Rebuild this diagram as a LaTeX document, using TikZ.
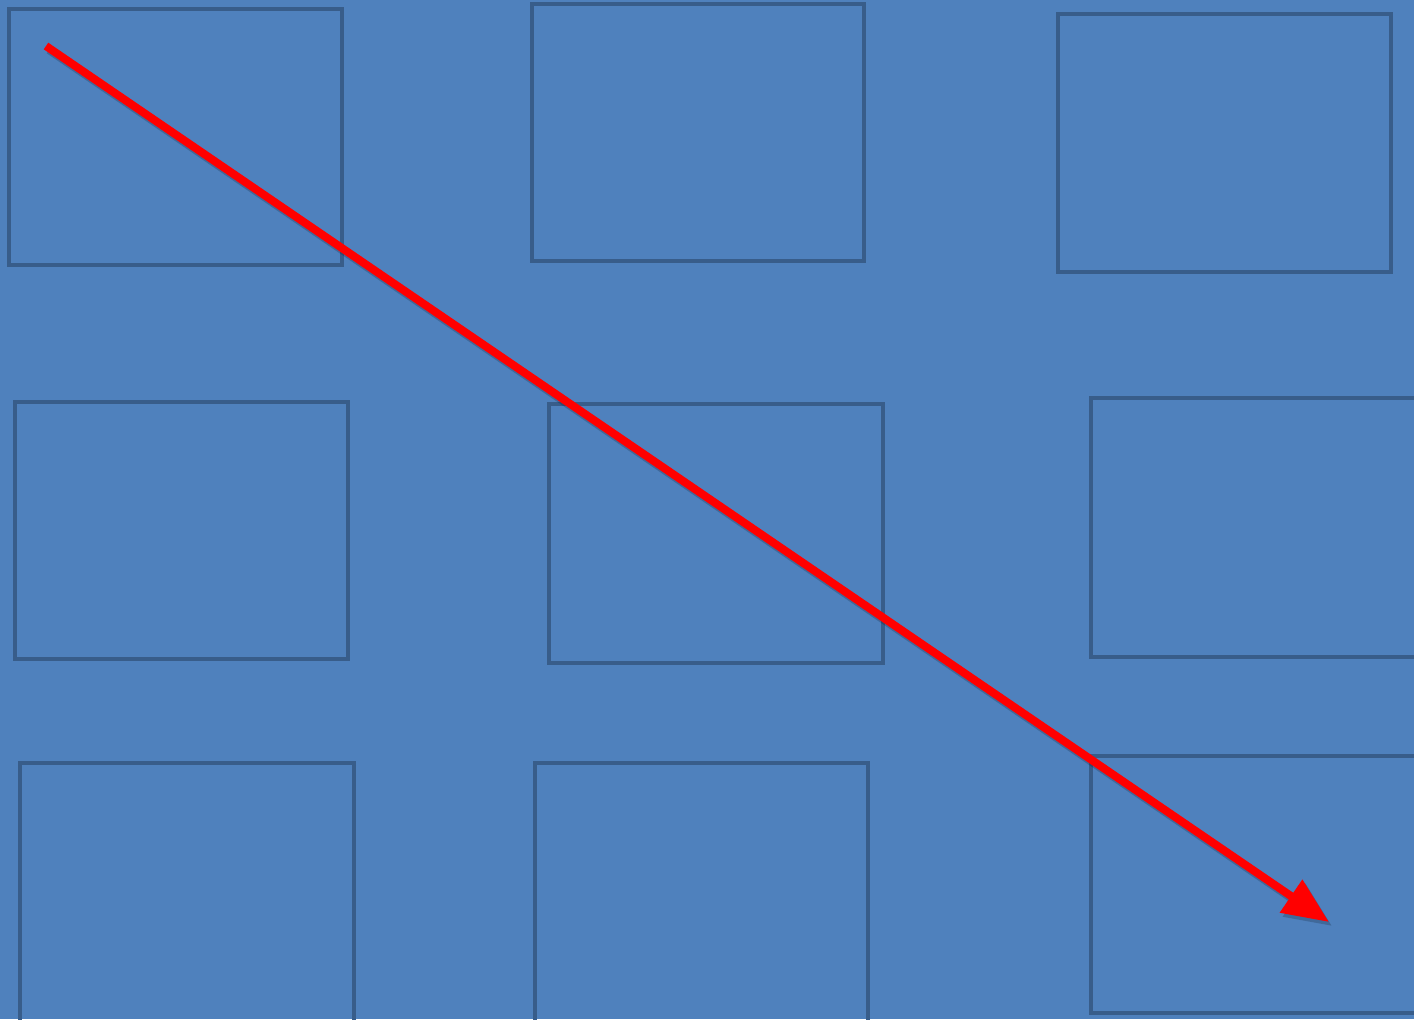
\documentclass[tikz,border=0pt]{standalone}
\usetikzlibrary{arrows.meta}
\definecolor{bgblue}{HTML}{4F81BD}
\definecolor{boxedge}{HTML}{385D8A}
\definecolor{arrred}{HTML}{FF0000}
\begin{document}
\begin{tikzpicture}[x=0.5pt,y=-0.5pt,
  frame/.style={draw=boxedge, line width=2pt, fill=none, inner sep=0pt, outer sep=0pt},
  bigarrow/.style={draw=arrred, line width=4pt, -{Triangle[length=23pt,width=19pt]}},
  shadowarrow/.style={draw=black, opacity=0.18, line width=4pt, -{Triangle[length=23pt,width=19pt]}}]
\useasboundingbox (0,0) rectangle (1414,1019);
\fill[bgblue] (0,0) rectangle (1414,1019);
\clip (0,0) rectangle (1414,1019);
\node[frame, minimum width=166.5pt, minimum height=128pt, anchor=north west] (b1) at (9,9) {};
\node[frame, minimum width=166pt, minimum height=128.5pt, anchor=north west] (b2) at (532,4) {};
\node[frame, minimum width=166.5pt, minimum height=129pt, anchor=north west] (b3) at (1058,14) {};
\node[frame, minimum width=166.5pt, minimum height=128.5pt, anchor=north west] (b4) at (15,402) {};
\node[frame, minimum width=167pt, minimum height=129.5pt, anchor=north west] (b5) at (549,404) {};
\node[frame, minimum width=166.5pt, minimum height=129.5pt, anchor=north west] (b6) at (1091,398) {};
\node[frame, minimum width=167pt, minimum height=130pt, anchor=north west] (b7) at (20,763) {};
\node[frame, minimum width=166.5pt, minimum height=130pt, anchor=north west] (b8) at (535,763) {};
\node[frame, minimum width=166.5pt, minimum height=128.5pt, anchor=north west] (b9) at (1091,756) {};
\coordinate (s) at (46,46);
\coordinate (t) at (1329,922);
\coordinate (ss) at (49,50);
\coordinate (ts) at (1332,926);
\draw[shadowarrow] (ss) -- (ts);
\draw[bigarrow] (s) -- (t);
\end{tikzpicture}
\end{document}
